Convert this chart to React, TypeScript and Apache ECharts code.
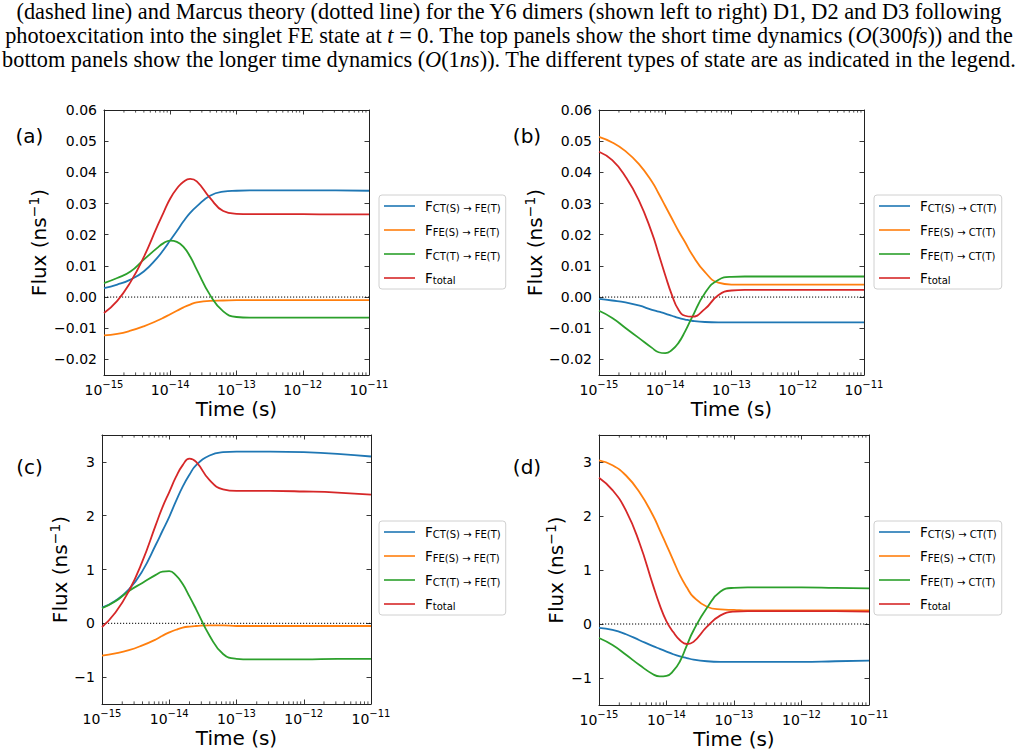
import React, { useEffect, useRef } from 'react';
import * as echarts from 'echarts';

// log10 of time (s) at which the curves were read
const timeExponents = [-15, -14.8, -14.6, -14.4, -14.2, -14.1, -14.0, -13.9, -13.8, -13.7, -13.6, -13.4, -13.2, -13.0, -12.8, -12.5, -12, -11.5, -11];

// Panel (a): short time, FE(T) fluxes (ns^-1)
const aCtsFet = [0.0029, 0.0040, 0.0056, 0.0082, 0.0125, 0.0152, 0.0182, 0.0212, 0.0243, 0.0270, 0.0291, 0.0325, 0.0338, 0.0341, 0.0342, 0.0342, 0.0342, 0.0342, 0.0341];
const aFesFet = [-0.0123, -0.0118, -0.0108, -0.0094, -0.0076, -0.0066, -0.0055, -0.0044, -0.0033, -0.0024, -0.0017, -0.0012, -0.0011, -0.0010, -0.0010, -0.0010, -0.0010, -0.0010, -0.0010];
const aCttFet = [0.0045, 0.0061, 0.0082, 0.0120, 0.0157, 0.0173, 0.0181, 0.0177, 0.0161, 0.0130, 0.0088, 0.0007, -0.0046, -0.0064, -0.0066, -0.0066, -0.0066, -0.0066, -0.0066];
const aTotal = [-0.0051, -0.0012, 0.0048, 0.0128, 0.0225, 0.0272, 0.0316, 0.0348, 0.0370, 0.0379, 0.0371, 0.0318, 0.0276, 0.0267, 0.0266, 0.0266, 0.0266, 0.0265, 0.0265];

// Panel (b): short time, CT(T) fluxes
const bCtsCtt = [-0.0006, -0.0011, -0.0017, -0.0027, -0.0041, -0.0047, -0.0053, -0.0060, -0.0067, -0.0072, -0.0076, -0.0080, -0.0081, -0.0081, -0.0081, -0.0081, -0.0081, -0.0081, -0.0081];
const bFesCtt = [0.0514, 0.0496, 0.0468, 0.0427, 0.0370, 0.0332, 0.0292, 0.0252, 0.0212, 0.0176, 0.0138, 0.0080, 0.0046, 0.0040, 0.0040, 0.0040, 0.0040, 0.0040, 0.0040];
const bFetCtt = [-0.0044, -0.0067, -0.0099, -0.0131, -0.0163, -0.0177, -0.0180, -0.0170, -0.0147, -0.0110, -0.0067, 0.0013, 0.0055, 0.0065, 0.0066, 0.0066, 0.0066, 0.0066, 0.0066];
const bTotal = [0.0466, 0.0439, 0.0386, 0.0311, 0.0205, 0.0138, 0.0070, 0.0007, -0.0041, -0.0060, -0.0063, -0.0038, 0.0006, 0.0021, 0.0023, 0.0023, 0.0023, 0.0023, 0.0023];

// Panel (c): longer time, FE(T) fluxes
const cCtsFet = [0.29, 0.42, 0.63, 0.97, 1.46, 1.72, 1.98, 2.27, 2.54, 2.76, 2.94, 3.12, 3.18, 3.19, 3.19, 3.19, 3.18, 3.15, 3.10];
const cFesFet = [-0.60, -0.56, -0.50, -0.41, -0.30, -0.23, -0.17, -0.12, -0.08, -0.06, -0.05, -0.04, -0.04, -0.05, -0.05, -0.05, -0.05, -0.05, -0.05];
const cCttFet = [0.28, 0.41, 0.60, 0.75, 0.90, 0.96, 0.97, 0.89, 0.73, 0.50, 0.26, -0.23, -0.57, -0.66, -0.67, -0.67, -0.67, -0.66, -0.66];
const cTotal = [-0.07, 0.20, 0.60, 1.15, 1.83, 2.16, 2.44, 2.72, 2.94, 3.06, 3.00, 2.66, 2.49, 2.46, 2.46, 2.46, 2.45, 2.43, 2.39];

// Panel (d): longer time, CT(T) fluxes
const dCtsCtt = [-0.07, -0.11, -0.19, -0.30, -0.41, -0.46, -0.51, -0.56, -0.60, -0.63, -0.66, -0.69, -0.70, -0.70, -0.70, -0.70, -0.70, -0.69, -0.68];
const dFesCtt = [3.03, 2.94, 2.75, 2.44, 2.01, 1.74, 1.46, 1.18, 0.90, 0.68, 0.50, 0.32, 0.27, 0.26, 0.25, 0.25, 0.25, 0.25, 0.25];
const dFetCtt = [-0.26, -0.39, -0.57, -0.76, -0.93, -0.97, -0.96, -0.87, -0.69, -0.40, -0.12, 0.30, 0.60, 0.67, 0.68, 0.68, 0.68, 0.67, 0.66];
const dTotal = [2.71, 2.48, 2.10, 1.50, 0.72, 0.35, 0.05, -0.15, -0.30, -0.37, -0.33, -0.05, 0.16, 0.23, 0.24, 0.24, 0.24, 0.24, 0.23];

// legend labels (subscripts of F)
const feNames = ['CT(S) → FE(T)', 'FE(S) → FE(T)', 'CT(T) → FE(T)', 'total'];
const ctNames = ['CT(S) → CT(T)', 'FE(S) → CT(T)', 'FE(T) → CT(T)', 'total'];

// axis ticks
const xMinExp = -15;
const xMaxExp = -11;
const minorMultipliers = [2, 3, 4, 5, 6, 7, 8, 9];

const captionLines = [
  '(dashed line) and Marcus theory (dotted line) for the Y6 dimers (shown left to right) D1, D2 and D3 following',
  'photoexcitation into the singlet FE state at {i|t} = 0. The top panels show the short time dynamics ({i|O}(300{i|fs})) and the',
  'bottom panels show the longer time dynamics ({i|O}(1{i|ns})). The different types of state are as indicated in the legend.',
];
const panelLabels = ['(a)', '(b)', '(c)', '(d)'];

const colors = ['#1f77b4', '#ff7f0e', '#2ca02c', '#d62728'];

const FONT = 'DejaVu Sans';
const CAPTION_SIZE = 22.3;

export default function App() {
  const ref = useRef<HTMLDivElement>(null);

  useEffect(() => {
    if (!ref.current) return;
    const chart = echarts.init(ref.current, undefined, { renderer: 'svg' });

    const times = timeExponents.map((e) => Math.pow(10, e));
    const xMin = Math.pow(10, xMinExp);
    const xMax = Math.pow(10, xMaxExp);
    const minorTicks: number[] = [];
    for (let d = xMinExp; d < xMaxExp; d++) {
      minorMultipliers.forEach((m) => minorTicks.push(m * Math.pow(10, d)));
    }

    const panels = [
      { grid: { left: 104, top: 110, width: 265, height: 265 }, yMin: -0.025, yMax: 0.06, split: 8, dec: true, data: [aCtsFet, aFesFet, aCttFet, aTotal], names: feNames, legend: { left: 379, top: 195 }, nameGap: 55, label: [29.5, 136] },
      { grid: { left: 599, top: 110, width: 265, height: 265 }, yMin: -0.025, yMax: 0.06, split: 8, dec: true, data: [bCtsCtt, bFesCtt, bFetCtt, bTotal], names: ctNames, legend: { left: 874, top: 195 }, nameGap: 54.5, label: [527, 136] },
      { grid: { left: 102, top: 435, width: 269, height: 269 }, yMin: -1.5, yMax: 3.5, split: 5, dec: false, data: [cCtsFet, cFesFet, cCttFet, cTotal], names: feNames, legend: { left: 379, top: 521 }, nameGap: 32.5, label: [29.5, 467] },
      { grid: { left: 599, top: 435, width: 270, height: 270 }, yMin: -1.5, yMax: 3.5, split: 5, dec: false, data: [dCtsCtt, dFesCtt, dFetCtt, dTotal], names: ctNames, legend: { left: 874, top: 521 }, nameGap: 33, label: [527, 467] },
    ];

    const axisLine = { show: true, onZero: false, lineStyle: { color: '#222', width: 1 } };
    const axisTick = { show: true, inside: true, length: 4.5, lineStyle: { color: '#222', width: 0.9 } };

    const grids: any[] = [];
    const xAxes: any[] = [];
    const yAxes: any[] = [];
    const series: any[] = [];
    const legends: any[] = [];
    const graphics: any[] = [];

    panels.forEach((p, i) => {
      grids.push({ ...p.grid, containLabel: false });
      xAxes.push({
        type: 'log', logBase: 10, gridIndex: i, min: xMin, max: xMax, position: 'bottom',
        axisLine, axisTick, splitLine: { show: false },
        axisLabel: {
          margin: 4, color: '#000',
          formatter: (v: number) => `{b|10}{s|−${Math.abs(Math.round(Math.log10(v)))}}`,
          rich: {
            b: { fontSize: 14, fontFamily: FONT, color: '#000', lineHeight: 18, verticalAlign: 'bottom' },
            s: { fontSize: 10, fontFamily: FONT, color: '#000', lineHeight: 10, verticalAlign: 'top' },
          },
        },
        name: 'Time (s)', nameLocation: 'middle', nameGap: 23,
        nameTextStyle: { fontSize: 20, fontFamily: FONT, color: '#000', verticalAlign: 'top', lineHeight: 22 },
      });
      xAxes.push({
        type: 'log', logBase: 10, gridIndex: i, min: xMin, max: xMax, position: 'top',
        axisLine, axisTick, splitLine: { show: false }, axisLabel: { show: false },
      });
      const fmt = p.dec
        ? (v: number) => (v < -1e-9 ? '−' : '') + Math.abs(v).toFixed(2)
        : (v: number) => (v < -1e-9 ? '−' : '') + String(Math.abs(Math.round(v)));
      yAxes.push({
        type: 'value', gridIndex: i, min: p.yMin, max: p.yMax, splitNumber: p.split, position: 'left',
        axisLine, axisTick, splitLine: { show: false },
        axisLabel: { margin: 7, color: '#000', fontSize: 14, fontFamily: FONT, formatter: fmt, showMinLabel: false, showMaxLabel: p.dec },
        name: '{a|Flux (ns}{s|−1}{a|)}', nameLocation: 'middle', nameGap: p.nameGap, nameRotate: 90,
        nameTextStyle: {
          rich: {
            a: { fontSize: 20, fontFamily: FONT, color: '#000', lineHeight: 22, verticalAlign: 'bottom' },
            s: { fontSize: 14, fontFamily: FONT, color: '#000', lineHeight: 12, verticalAlign: 'top' },
          },
        },
      });
      yAxes.push({
        type: 'value', gridIndex: i, min: p.yMin, max: p.yMax, splitNumber: p.split, position: 'right',
        axisLine, axisTick, splitLine: { show: false }, axisLabel: { show: false },
      });

      // zero reference (dotted)
      series.push({
        type: 'line', name: 'zero', xAxisIndex: 2 * i, yAxisIndex: 2 * i, silent: true, symbol: 'none',
        data: [[xMin, 0], [xMax, 0]], lineStyle: { color: '#000', width: 1, type: [1.2, 1.8] }, z: 1,
      });
      p.data.forEach((arr, k) => {
        series.push({
          type: 'line', name: p.names[k], xAxisIndex: 2 * i, yAxisIndex: 2 * i, showSymbol: false, symbol: 'none',
          smooth: 0.5, silent: true, z: 2 + k,
          data: times.map((t, j) => [t, arr[j]]),
          lineStyle: { color: colors[k], width: 1.8 }, itemStyle: { color: colors[k] },
        });
      });
      // minor log ticks on bottom and top
      series.push({
        type: 'custom', name: 'minor', xAxisIndex: 2 * i, yAxisIndex: 2 * i, silent: true, clip: false, z: 10,
        data: minorTicks.map((v) => [v, 0]),
        renderItem: (params: any, api: any) => {
          const pt = api.coord([api.value(0), 0]);
          const cs = params.coordSys;
          const bottom = cs.y + cs.height;
          const top = cs.y;
          const st = { stroke: '#222', lineWidth: 0.8 };
          return {
            type: 'group',
            children: [
              { type: 'line', shape: { x1: pt[0], y1: bottom, x2: pt[0], y2: bottom - 2.6 }, style: st },
              { type: 'line', shape: { x1: pt[0], y1: top, x2: pt[0], y2: top + 2.6 }, style: st },
            ],
          };
        },
      });

      legends.push({
        orient: 'vertical', left: p.legend.left, top: p.legend.top, data: p.names, icon: 'rect',
        itemWidth: 31, itemHeight: 1.6, itemGap: 10, padding: [4, 5, 4, 5],
        borderColor: '#d0d0d0', borderWidth: 1, borderRadius: 3, backgroundColor: '#fff', selectedMode: false,
        formatter: (n: string) => `{f|F}{s|${n}}`,
        textStyle: {
          rich: {
            f: { fontSize: 13.5, lineHeight: 14, fontFamily: FONT, color: '#000', padding: [0, 0, 0, 5] },
            s: { fontSize: 10, lineHeight: 6, verticalAlign: 'bottom', fontFamily: FONT, color: '#000' },
          },
        },
      });

      graphics.push({
        type: 'text', x: p.label[0], y: p.label[1],
        style: { text: panelLabels[i], fontSize: 20, fontFamily: FONT, fill: '#000', textAlign: 'center', textVerticalAlign: 'middle' },
      });
    });

    const captionY = [11.5, 35.5, 59.5];
    captionLines.forEach((line, k) => {
      graphics.push({
        type: 'text', x: 509, y: captionY[k],
        style: {
          text: line, fontSize: CAPTION_SIZE, fontFamily: 'Liberation Serif', fill: '#000', textAlign: 'center', textVerticalAlign: 'middle',
          rich: { i: { fontStyle: 'italic', fontSize: CAPTION_SIZE, fontFamily: 'Liberation Serif', fill: '#000' } },
        },
      });
    });

    chart.setOption({
      animation: false,
      textStyle: { fontFamily: FONT },
      grid: grids,
      xAxis: xAxes,
      yAxis: yAxes,
      legend: legends,
      series,
      graphic: graphics,
    });

    return () => chart.dispose();
  }, []);

  return <div ref={ref} style={{ position: 'absolute', left: 0, top: 0, width: 1018, height: 756, background: '#fff' }} />;
}
